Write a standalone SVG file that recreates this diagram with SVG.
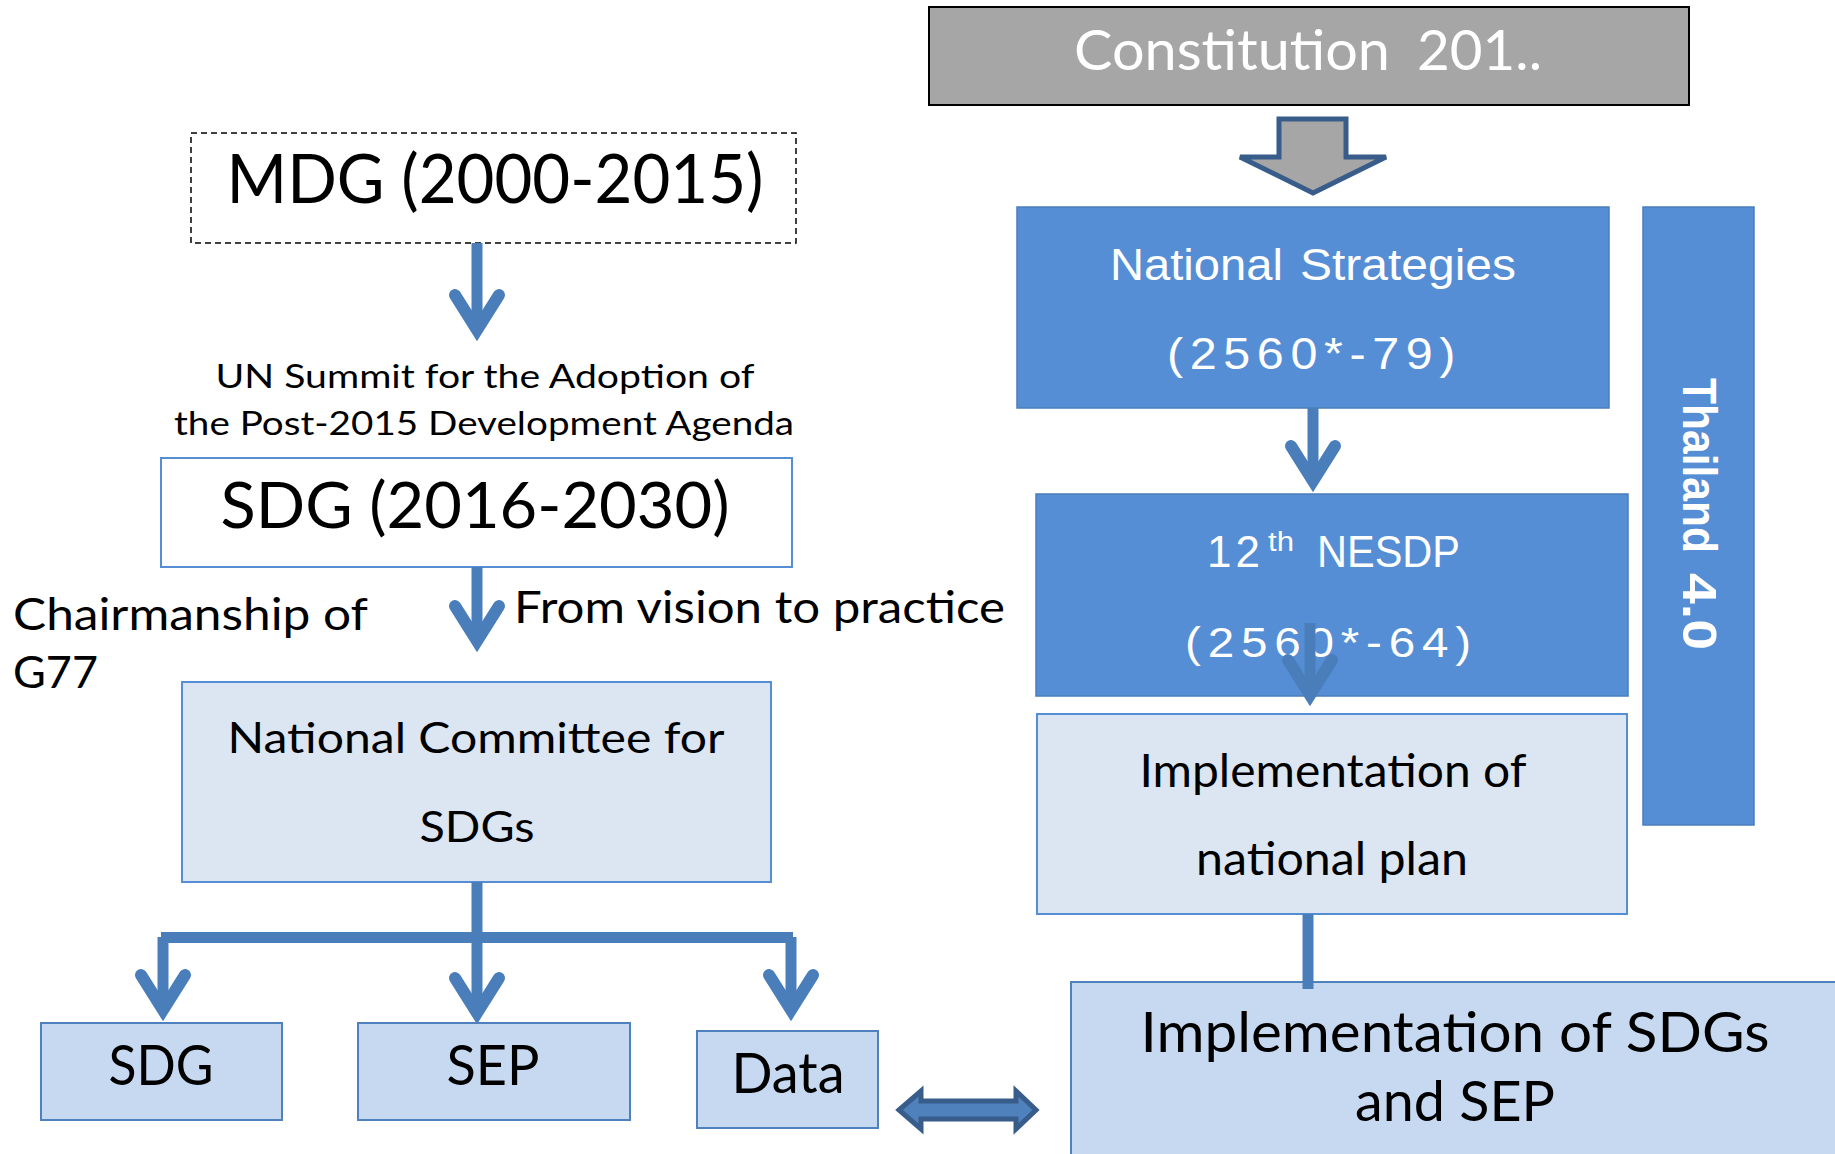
<svg xmlns="http://www.w3.org/2000/svg" xmlns:xlink="http://www.w3.org/1999/xlink" width="1835" height="1154" viewBox="0 0 1835 1154">
<style>
  .cal { font-family: Lato, "Open Sans", "Liberation Sans", sans-serif; }
  .ari { font-family: "Liberation Sans", Arial, sans-serif; }
  .blk { fill: #000000; }
  .wht { fill: #ffffff; }
  .mid { text-anchor: middle; }
  .num { letter-spacing: 6px; }
  .dark { fill: #558ed5; stroke: #4a7ebb; stroke-width: 1.5; }
  .pale { fill: #dce6f2; stroke: #558ed5; stroke-width: 2; }
  .light { fill: #c6d9f1; stroke: #4f81bd; stroke-width: 2; }
  .shaft { stroke: #4a7ebb; stroke-width: 11; fill: none; }
  .head { stroke: #4a7ebb; stroke-width: 12; fill: none; stroke-linecap: round; stroke-linejoin: miter; stroke-miterlimit: 10; }
</style>
<defs>
  <path id="ah" class="head" d="M-22,-47 L0,-12 L22,-47"/>
</defs>
<rect width="1835" height="1154" fill="#ffffff"/>

<g id="constitution">
  <rect x="929" y="7" width="760" height="98" fill="#a6a6a6" stroke="#000000" stroke-width="2"/>
  <text class="cal wht" x="1074" y="70" font-size="56" textLength="316" lengthAdjust="spacingAndGlyphs">Constitution</text>
  <text class="cal wht" x="1417" y="70" font-size="56" textLength="125" lengthAdjust="spacingAndGlyphs">201..</text>
</g>

<g id="block-arrow">
  <polygon points="1279,119 1346,119 1346,157 1386,157 1313,193 1240,157 1279,157" fill="#a6a6a6" stroke="#385d8a" stroke-width="5" stroke-linejoin="miter"/>
</g>

<g id="mdg">
  <rect x="191" y="133" width="605" height="110" fill="#ffffff" stroke="#000000" stroke-width="1.5" stroke-dasharray="6 4"/>
  <text class="cal blk mid" x="495" y="203" font-size="67" textLength="537" lengthAdjust="spacingAndGlyphs">MDG (2000-2015)</text>
</g>

<g id="un-summit">
  <text class="cal blk mid" x="485" y="388" font-size="32" textLength="539" lengthAdjust="spacingAndGlyphs">UN Summit for the Adoption of</text>
  <text class="cal blk mid" x="484" y="435" font-size="32" textLength="620" lengthAdjust="spacingAndGlyphs">the Post-2015 Development Agenda</text>
</g>

<g id="sdg-main">
  <rect x="161" y="458" width="631" height="109" fill="#ffffff" stroke="#558ed5" stroke-width="2"/>
  <text class="cal blk mid" x="475" y="528" font-size="63" textLength="509" lengthAdjust="spacingAndGlyphs">SDG (2016-2030)</text>
</g>

<g id="from-vision">
  <text class="cal blk" x="514" y="623" font-size="44" textLength="491" lengthAdjust="spacingAndGlyphs">From vision to practice</text>
</g>

<g id="chairmanship">
  <text class="cal blk" x="13" y="630" font-size="44" textLength="355" lengthAdjust="spacingAndGlyphs">Chairmanship of</text>
  <text class="cal blk" x="13" y="688" font-size="44" textLength="85" lengthAdjust="spacingAndGlyphs">G77</text>
</g>

<g id="national-committee">
  <rect x="182" y="682" width="589" height="200" class="pale"/>
  <text class="cal blk mid" x="476" y="753" font-size="42" textLength="497" lengthAdjust="spacingAndGlyphs">National Committee for</text>
  <text class="cal blk mid" x="477" y="842" font-size="42" textLength="115" lengthAdjust="spacingAndGlyphs">SDGs</text>
</g>

<g id="sdg-box">
  <rect x="41" y="1023" width="241" height="97" class="light"/>
  <text class="cal blk mid" x="161" y="1085" font-size="56" textLength="105" lengthAdjust="spacingAndGlyphs">SDG</text>
</g>

<g id="sep-box">
  <rect x="358" y="1023" width="272" height="97" class="light"/>
  <text class="cal blk mid" x="493" y="1085" font-size="56" textLength="93" lengthAdjust="spacingAndGlyphs">SEP</text>
</g>

<g id="data-box">
  <rect x="697" y="1031" width="181" height="97" class="light"/>
  <text class="cal blk mid" x="788" y="1093" font-size="56" textLength="113" lengthAdjust="spacingAndGlyphs">Data</text>
</g>

<g id="national-strategies">
  <rect x="1017" y="207" width="592" height="201" class="dark"/>
  <text class="ari wht" x="1110" y="280" font-size="44" textLength="173" lengthAdjust="spacingAndGlyphs">National</text>
  <text class="ari wht" x="1300" y="280" font-size="44" textLength="216" lengthAdjust="spacingAndGlyphs">Strategies</text>
  <text class="ari wht num" x="1167" y="369" font-size="44" textLength="295" lengthAdjust="spacingAndGlyphs">(2560*-79)</text>
</g>

<g id="nesdp">
  <rect x="1036" y="494" width="592" height="202" class="dark"/>
  <text class="ari wht" x="1207" y="567" font-size="44" textLength="53" lengthAdjust="spacing">12</text>
  <text class="ari wht" x="1268" y="551" font-size="27" textLength="26" lengthAdjust="spacingAndGlyphs">th</text>
  <text class="ari wht" x="1317" y="567" font-size="44" textLength="143" lengthAdjust="spacingAndGlyphs">NESDP</text>
  <text class="ari wht num" x="1185" y="657" font-size="42" textLength="293" lengthAdjust="spacingAndGlyphs">(2560*-64)</text>
</g>

<g id="thailand-40">
  <rect x="1643" y="207" width="111" height="618" class="dark"/>
  <text class="ari wht" font-weight="bold" font-size="48" transform="translate(1683,378) rotate(90)" textLength="175" lengthAdjust="spacingAndGlyphs">Thailand</text>
  <text class="ari wht" font-weight="bold" font-size="48" transform="translate(1683,573) rotate(90)" textLength="77" lengthAdjust="spacingAndGlyphs">4.0</text>
</g>

<g id="impl-national-plan">
  <rect x="1037" y="714" width="590" height="200" class="pale"/>
  <text class="cal blk mid" x="1333" y="787" font-size="46" textLength="387" lengthAdjust="spacingAndGlyphs">Implementation of</text>
  <text class="cal blk mid" x="1332" y="875" font-size="46" textLength="272" lengthAdjust="spacingAndGlyphs">national plan</text>
</g>

<g id="impl-sdgs-sep">
  <rect x="1071" y="982" width="780" height="200" class="light"/>
  <text class="cal blk mid" x="1455" y="1052" font-size="56" textLength="629" lengthAdjust="spacingAndGlyphs">Implementation of SDGs</text>
  <text class="cal blk mid" x="1455" y="1121" font-size="56" textLength="200" lengthAdjust="spacingAndGlyphs">and SEP</text>
</g>

<g id="connectors">
  <line class="shaft" x1="477" y1="243" x2="477" y2="332"/>
  <use xlink:href="#ah" href="#ah" x="477" y="342"/>

  <line class="shaft" x1="477" y1="567" x2="477" y2="643"/>
  <use xlink:href="#ah" href="#ah" x="477" y="653"/>

  <line class="shaft" x1="477" y1="882" x2="477" y2="1015"/>
  <use xlink:href="#ah" href="#ah" x="477" y="1025"/>
  <rect x="161" y="932" width="632" height="11" fill="#4a7ebb"/>
  <line class="shaft" x1="163" y1="937" x2="163" y2="1012"/>
  <use xlink:href="#ah" href="#ah" x="163" y="1022"/>
  <line class="shaft" x1="791" y1="937" x2="791" y2="1012"/>
  <use xlink:href="#ah" href="#ah" x="791" y="1022"/>

  <line class="shaft" x1="1313" y1="408" x2="1313" y2="483"/>
  <use xlink:href="#ah" href="#ah" x="1313" y="493"/>

  <line class="shaft" x1="1310" y1="623" x2="1310" y2="697"/>
  <use xlink:href="#ah" href="#ah" x="1310" y="707"/>

  <line class="shaft" x1="1308" y1="914" x2="1308" y2="989"/>

  <polygon points="899,1110 921,1091 921,1101 1016,1101 1016,1091 1036,1110 1016,1129 1016,1119 921,1119 921,1129" fill="#4f81bd" stroke="#385d8a" stroke-width="5" stroke-linejoin="miter"/>
</g>
</svg>
